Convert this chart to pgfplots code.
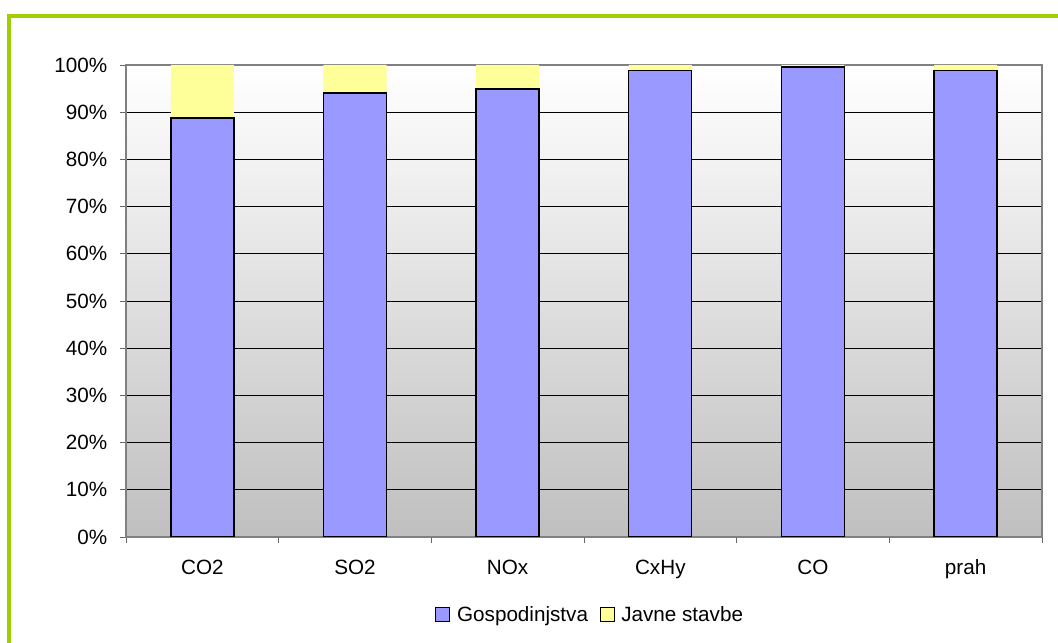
\documentclass[border=0pt]{standalone}
\usepackage{fontspec}
\setmainfont{Liberation Sans}
\usepackage{pgfplots}
\pgfplotsset{compat=1.18}

\definecolor{frameGreen}{RGB}{160,206,0}
\definecolor{barBlue}{RGB}{153,153,255}
\definecolor{barYellow}{RGB}{255,255,153}

\begin{document}
\begin{tikzpicture}[x=1pt,y=1pt]
  \useasboundingbox (0,0) rectangle (793.5,482.25);
  \fill[white] (0,0) rectangle (793.5,482.25);
  % outer chart frame
  \draw[frameGreen, line width=3pt] (6.75,-5) -- (6.75,470.25) -- (800,470.25);
  \begin{axis}[
    at={(94.5pt,79.5pt)}, anchor=south west,
    scale only axis, width=687pt, height=354pt,
    font=\fontsize{15.5}{18}\selectfont,
    ybar stacked, bar width=47.25pt,
    xmin=-0.5, xmax=5.5, ymin=0, ymax=100,
    xtick={0,...,5},
    xticklabels={CO2,SO2,NOx,CxHy,CO,prah},
    minor xtick={-0.5,0.5,...,5.5},
    ytick={0,10,...,100},
    yticklabel={\pgfmathprintnumber{\tick}\%},
    /pgf/number format/assume math mode=true,
    tick align=outside,
    xtick pos=bottom, ytick pos=left,
    major x tick style={draw=none},
    major tick length=4.5pt, minor tick length=4.5pt,
    tick style={black!60, line width=0.6pt},
    xticklabel style={yshift=-9pt},
    yticklabel style={xshift=-6pt},
    ymajorgrids, major grid style={black, line width=0.6pt},
    axis line style={black!50, line width=0.9pt},
    axis background/.style={shade, top color=white, bottom color=black!25},
    legend columns=2,
    legend style={at={(0.507,-0.165)}, anchor=center, draw=none, fill=none,
      font=\fontsize{15.5}{18}\selectfont,
      /tikz/every odd column/.append style={column sep=3pt},
      /tikz/every even column/.append style={column sep=7pt}},
    legend cell align=left,
    legend image code/.code={\draw[#1] (0pt,-5pt) rectangle (10.5pt,5.5pt);},
  ]
    \addplot[fill=barBlue, draw=black, line width=1pt]
      coordinates {(0,88.8) (1,94.1) (2,94.9) (3,98.8) (4,99.6) (5,98.8)};
    \addplot[fill=barYellow, draw=none]
      coordinates {(0,11.2) (1,5.9) (2,5.1) (3,1.2) (4,0.4) (5,1.2)};
    \legend{Gospodinjstva, Javne stavbe}
  \end{axis}
\end{tikzpicture}
\end{document}
